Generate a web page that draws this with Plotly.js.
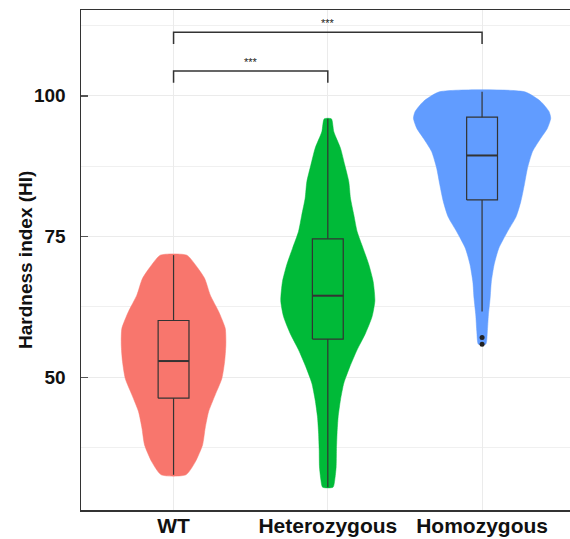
<!DOCTYPE html>
<html><head><meta charset="utf-8">
<script src="https://cdn.plot.ly/plotly-3.0.1.min.js"></script>
<style>html,body{margin:0;padding:0;background:#fff;overflow:hidden}#chart{width:570px;height:539px}</style>
</head><body><div id="chart"></div>
<script>
// ---- data ----
const categories = ['WT', 'Heterozygous', 'Homozygous'];
const groupPos = [0, 1, 2];

// violin density outlines (y value, half-width in category units)
const wtY = [71.7, 70.0, 67.6, 64.6, 61.7, 58.7, 55.8, 52.8, 49.8, 46.9, 43.9, 41.0, 38.0, 35.0, 32.7];
const wtDensity = [0.086, 0.141, 0.201, 0.238, 0.292, 0.335, 0.339, 0.331, 0.313, 0.270, 0.227, 0.205, 0.188, 0.141, 0.080];

const hetY = [95.9, 93.6, 90.7, 87.7, 84.75, 81.8, 78.8, 75.9, 72.9, 70.0, 67.0, 63.6, 60.8, 57.8, 54.9, 51.9, 49.0, 46.0, 43.0, 40.1, 37.1, 34.1, 31.8, 30.5];
const hetDensity = [0.023, 0.039, 0.082, 0.110, 0.136, 0.147, 0.169, 0.190, 0.229, 0.266, 0.294, 0.305, 0.287, 0.244, 0.190, 0.143, 0.104, 0.082, 0.067, 0.060, 0.056, 0.054, 0.045, 0.034];

const homY = [100.7, 99.0, 97.2, 96.0, 94.2, 92.45, 90.1, 87.1, 84.2, 81.2, 78.5, 75.9, 72.9, 70.0, 67.0, 64.0, 61.1, 58.1, 55.9];
const homDensity = [0.277, 0.380, 0.434, 0.445, 0.423, 0.380, 0.327, 0.294, 0.274, 0.251, 0.220, 0.165, 0.108, 0.078, 0.060, 0.052, 0.041, 0.034, 0.024];

// box statistics
const boxQ1 = [46.3, 56.8, 81.5];
const boxMedian = [52.9, 64.5, 89.4];
const boxQ3 = [60.1, 74.6, 96.2];
const boxLower = [32.7, 30.5, 61.7];
const boxUpper = [71.7, 95.9, 100.7];

// outliers
const outlierGroup = [2, 2];
const outlierY = [57.1, 55.9];

// significance comparisons
const comparisons = [[0, 1], [0, 2]];
const bracketY = [104.4, 111.3];
const sigLabels = ['***', '***'];

const yTicks = [50, 75, 100];
const yMinorTicks = [37.5, 62.5, 87.5, 112.5];
const yTitle = 'Hardness index (HI)';

// ---- styles ----
const fillColors = ['#F8766D', '#00BA38', '#619CFF'];
const boxWidth = 0.2;
const legLen = 2.1;
const labelGap = 1.6;
const dark = '#333333';
const font = 'Liberation Sans, Arial, sans-serif';

// ---- traces ----
const traces = [];
const profiles = [[wtY, wtDensity], [hetY, hetDensity], [homY, homDensity]];
profiles.forEach(([ys, ds], i) => {
  const c = groupPos[i];
  const xs = ds.map(d => c + d).concat(ds.slice().reverse().map(d => c - d));
  const yy = ys.concat(ys.slice().reverse());
  xs.push(xs[0]); yy.push(yy[0]);
  traces.push({
    type: 'scatter', mode: 'lines', x: xs, y: yy,
    fill: 'toself', fillcolor: fillColors[i],
    line: {color: fillColors[i], width: 0.5, shape: 'spline', smoothing: 0.6},
    hoverinfo: 'skip', showlegend: false
  });
});

// box plots (rectangle + whiskers) from the box statistics
const bx = [], by = [], wx = [], wy = [], mx = [], my = [];
groupPos.forEach((c, i) => {
  const l = c - boxWidth / 2, r = c + boxWidth / 2;
  bx.push(l, r, r, l, l, null); by.push(boxQ1[i], boxQ1[i], boxQ3[i], boxQ3[i], boxQ1[i], null);
  wx.push(c, c, null, c, c, null); wy.push(boxQ3[i], boxUpper[i], null, boxQ1[i], boxLower[i], null);
  mx.push(l, r, null); my.push(boxMedian[i], boxMedian[i], null);
});
traces.push({type: 'scatter', mode: 'lines', x: wx, y: wy, line: {color: dark, width: 1.2}, hoverinfo: 'skip', showlegend: false});
traces.push({type: 'scatter', mode: 'lines', x: bx, y: by, line: {color: dark, width: 1.2}, hoverinfo: 'skip', showlegend: false});
traces.push({type: 'scatter', mode: 'lines', x: mx, y: my, line: {color: dark, width: 2}, hoverinfo: 'skip', showlegend: false});

traces.push({
  type: 'scatter', mode: 'markers', x: outlierGroup.map(g => groupPos[g]), y: outlierY,
  marker: {color: '#222', size: 5}, hoverinfo: 'skip', showlegend: false
});

const annotations = [];
comparisons.forEach(([a, b], i) => {
  const top = bracketY[i];
  traces.push({
    type: 'scatter', mode: 'lines',
    x: [groupPos[a], groupPos[a], groupPos[b], groupPos[b]],
    y: [top - legLen, top, top, top - legLen],
    line: {color: dark, width: 1.5}, hoverinfo: 'skip', showlegend: false
  });
  annotations.push({
    x: (groupPos[a] + groupPos[b]) / 2, y: top + labelGap, text: sigLabels[i],
    showarrow: false, xanchor: 'center', yanchor: 'middle',
    font: {family: font, size: 11, color: '#222'}
  });
});

annotations.push({
  xref: 'paper', yref: 'paper', x: 0, y: 0.5, xshift: -56,
  xanchor: 'center', yanchor: 'middle', textangle: -90, showarrow: false,
  text: yTitle, font: {family: font, size: 19, color: '#111', weight: 'bold'}
});

const layout = {
  width: 570, height: 539,
  margin: {l: 81, r: 0, t: 10, b: 29, pad: 0},
  paper_bgcolor: '#fff', plot_bgcolor: '#fff',
  showlegend: false, hovermode: false,
  xaxis: {
    range: [-0.6, 2.57], tickvals: groupPos, ticktext: categories,
    showgrid: true, gridcolor: '#ebebeb', gridwidth: 1, zeroline: false,
    showline: true, linecolor: dark, linewidth: 1.5, mirror: true,
    ticks: '', automargin: false, ticklabelstandoff: -4,
    tickfont: {family: font, size: 21, color: '#111', weight: 'bold'}
  },
  yaxis: {
    range: [26.45, 115.23], tickvals: yTicks,
    showgrid: true, gridcolor: '#ebebeb', gridwidth: 1, zeroline: false,
    showline: true, linecolor: dark, linewidth: 1.5,
    ticks: 'inside', ticklen: 7, tickwidth: 1.5, tickcolor: '#555',
    ticklabelstandoff: 10, automargin: false,
    minor: {tickvals: yMinorTicks, showgrid: true, gridcolor: '#f0f0f0', gridwidth: 1, ticks: ''},
    tickfont: {family: font, size: 19, color: '#111', weight: 'bold'}
  },
  annotations: annotations
};

Plotly.newPlot('chart', traces, layout, {staticPlot: true, displayModeBar: false});
</script></body></html>
